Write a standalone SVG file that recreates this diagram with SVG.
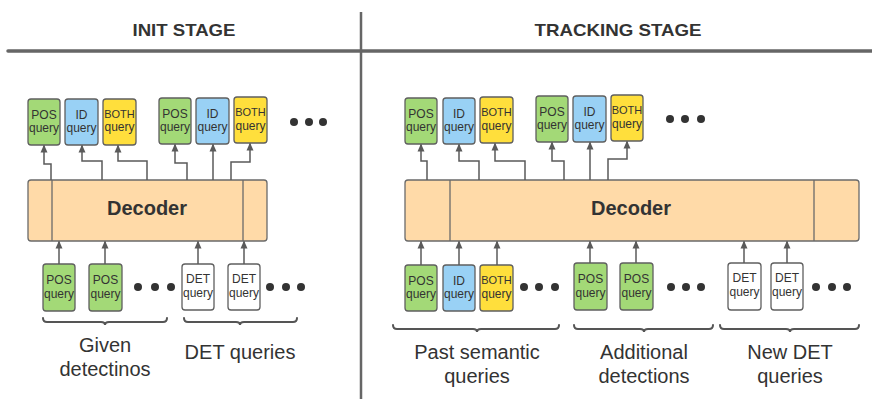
<svg xmlns="http://www.w3.org/2000/svg" width="872" height="399" viewBox="0 0 872 399">
  <style>
    .q { stroke: #5f5f5f; stroke-width: 1.3; }
    .pos { fill: #a3d977; }
    .id { fill: #99d1f5; }
    .both { fill: #ffdf3c; }
    .det { fill: #ffffff; }
    .dec { fill: #ffdaa8; stroke: #6a6a6a; stroke-width: 1.3; }
    .qt { font-family: "Liberation Sans", Arial, sans-serif; font-size: 12px; fill: #333; text-anchor: middle; }
    .bt { font-family: "Liberation Sans", Arial, sans-serif; font-size: 11px; fill: #333; text-anchor: middle; }
    .dt { font-family: "Liberation Sans", Arial, sans-serif; font-size: 20px; font-weight: bold; fill: #333; text-anchor: middle; }
    .hd { font-family: "Liberation Sans", Arial, sans-serif; font-size: 17px; font-weight: bold; fill: #333; text-anchor: middle; }
    .lb { font-family: "Liberation Sans", Arial, sans-serif; font-size: 20px; fill: #333; text-anchor: middle; }
    .ar { fill: none; stroke: #5a5a5a; stroke-width: 1.5; marker-end: url(#tip); }
    .br { fill: none; stroke: #555; stroke-width: 2; stroke-linecap: round; }
    .dot { fill: #333; }
  </style>
  <defs>
    <marker id="tip" markerUnits="userSpaceOnUse" markerWidth="8" markerHeight="8" viewBox="0 0 8 8" refX="7" refY="4" orient="auto">
      <path d="M0,0.5 L8,4 L0,7.5 Z" fill="#5a5a5a"/>
    </marker>
  </defs>

  <!-- stage headers and separators -->
  <g id="header">
    <line x1="8" y1="51" x2="872" y2="51" stroke="#666" stroke-width="3.5" stroke-linecap="round"/>
    <line x1="361" y1="12" x2="361" y2="399" stroke="#666" stroke-width="2.5"/>
    <text class="hd" x="184" y="36" textLength="103" lengthAdjust="spacingAndGlyphs">INIT STAGE</text>
    <text class="hd" x="618" y="36" textLength="167" lengthAdjust="spacingAndGlyphs">TRACKING STAGE</text>
  </g>

  <!-- init stage decoder -->
  <g id="decoder-init">
    <rect class="dec" x="28" y="180" width="239" height="61" rx="3"/>
    <line x1="52" y1="180" x2="52" y2="241" stroke="#6a6a6a" stroke-width="1.3"/>
    <line x1="243" y1="180" x2="243" y2="241" stroke="#6a6a6a" stroke-width="1.3"/>
    <text class="dt" x="147" y="215">Decoder</text>
  </g>

  <!-- tracking stage decoder -->
  <g id="decoder-track">
    <rect class="dec" x="405" y="180" width="454" height="61" rx="3"/>
    <line x1="450" y1="180" x2="450" y2="241" stroke="#6a6a6a" stroke-width="1.3"/>
    <line x1="814" y1="180" x2="814" y2="241" stroke="#6a6a6a" stroke-width="1.3"/>
    <text class="dt" x="631" y="215">Decoder</text>
  </g>

  <!-- init stage output queries -->
  <g id="init-out-pos1"><rect class="q pos" x="28" y="99" width="32" height="46" rx="3"/><text class="qt" x="44" y="119">POS</text><text class="qt" x="44" y="132">query</text></g>
  <g id="init-out-id1"><rect class="q id" x="65" y="99" width="33" height="46" rx="3"/><text class="qt" x="81.5" y="119">ID</text><text class="qt" x="81.5" y="132">query</text></g>
  <g id="init-out-both1"><rect class="q both" x="103" y="99" width="33" height="46" rx="3"/><text class="bt" x="119.5" y="118">BOTH</text><text class="qt" x="119.5" y="131">query</text></g>
  <g id="init-out-pos2"><rect class="q pos" x="159" y="98" width="32" height="46" rx="3"/><text class="qt" x="175" y="118">POS</text><text class="qt" x="175" y="131">query</text></g>
  <g id="init-out-id2"><rect class="q id" x="196" y="98" width="33" height="46" rx="3"/><text class="qt" x="212.5" y="118">ID</text><text class="qt" x="212.5" y="131">query</text></g>
  <g id="init-out-both2"><rect class="q both" x="234" y="97" width="33" height="46" rx="3"/><text class="bt" x="250.5" y="116">BOTH</text><text class="qt" x="250.5" y="130">query</text></g>
  <g id="init-out-more"><circle class="dot" cx="294" cy="122" r="4"/><circle class="dot" cx="309" cy="122" r="4"/><circle class="dot" cx="323" cy="122" r="4"/></g>

  <!-- init stage input queries -->
  <g id="init-in-pos1"><rect class="q pos" x="43" y="264" width="32" height="47" rx="3"/><text class="qt" x="59" y="284">POS</text><text class="qt" x="59" y="298">query</text></g>
  <g id="init-in-pos2"><rect class="q pos" x="89" y="264" width="33" height="47" rx="3"/><text class="qt" x="105.5" y="284">POS</text><text class="qt" x="105.5" y="298">query</text></g>
  <g id="init-in-more1"><circle class="dot" cx="138" cy="287" r="4"/><circle class="dot" cx="155" cy="287" r="4"/><circle class="dot" cx="171" cy="287" r="4"/></g>
  <g id="init-in-det1"><rect class="q det" x="182" y="264" width="32" height="46" rx="3"/><text class="qt" x="198" y="283">DET</text><text class="qt" x="198" y="297">query</text></g>
  <g id="init-in-det2"><rect class="q det" x="228" y="264" width="32" height="46" rx="3"/><text class="qt" x="244" y="283">DET</text><text class="qt" x="244" y="297">query</text></g>
  <g id="init-in-more2"><circle class="dot" cx="270" cy="287" r="4"/><circle class="dot" cx="286" cy="287" r="4"/><circle class="dot" cx="301" cy="287" r="4"/></g>

  <!-- tracking stage output queries -->
  <g id="track-out-pos1"><rect class="q pos" x="405" y="98" width="32" height="46" rx="3"/><text class="qt" x="421" y="118">POS</text><text class="qt" x="421" y="131">query</text></g>
  <g id="track-out-id1"><rect class="q id" x="443" y="98" width="32" height="46" rx="3"/><text class="qt" x="459" y="118">ID</text><text class="qt" x="459" y="131">query</text></g>
  <g id="track-out-both1"><rect class="q both" x="480" y="97" width="33" height="46" rx="3"/><text class="bt" x="496.5" y="116">BOTH</text><text class="qt" x="496.5" y="130">query</text></g>
  <g id="track-out-pos2"><rect class="q pos" x="536" y="96" width="32" height="46" rx="3"/><text class="qt" x="552" y="116">POS</text><text class="qt" x="552" y="129">query</text></g>
  <g id="track-out-id2"><rect class="q id" x="573" y="96" width="33" height="46" rx="3"/><text class="qt" x="589.5" y="116">ID</text><text class="qt" x="589.5" y="129">query</text></g>
  <g id="track-out-both2"><rect class="q both" x="611" y="95" width="32" height="46" rx="3"/><text class="bt" x="627" y="114">BOTH</text><text class="qt" x="627" y="128">query</text></g>
  <g id="track-out-more"><circle class="dot" cx="670" cy="119" r="4"/><circle class="dot" cx="685" cy="119" r="4"/><circle class="dot" cx="701" cy="119" r="4"/></g>

  <!-- tracking stage input queries -->
  <g id="track-in-pos1"><rect class="q pos" x="405" y="265" width="32" height="46" rx="3"/><text class="qt" x="421" y="285">POS</text><text class="qt" x="421" y="298">query</text></g>
  <g id="track-in-id1"><rect class="q id" x="443" y="265" width="32" height="46" rx="3"/><text class="qt" x="459" y="285">ID</text><text class="qt" x="459" y="298">query</text></g>
  <g id="track-in-both1"><rect class="q both" x="480" y="265" width="33" height="46" rx="3"/><text class="bt" x="496.5" y="284">BOTH</text><text class="qt" x="496.5" y="298">query</text></g>
  <g id="track-in-more1"><circle class="dot" cx="524" cy="287" r="4"/><circle class="dot" cx="539" cy="287" r="4"/><circle class="dot" cx="555" cy="287" r="4"/></g>
  <g id="track-in-pos2"><rect class="q pos" x="574" y="263" width="33" height="47" rx="3"/><text class="qt" x="590.5" y="283">POS</text><text class="qt" x="590.5" y="297">query</text></g>
  <g id="track-in-pos3"><rect class="q pos" x="620" y="263" width="33" height="47" rx="3"/><text class="qt" x="636.5" y="283">POS</text><text class="qt" x="636.5" y="297">query</text></g>
  <g id="track-in-more2"><circle class="dot" cx="671" cy="287" r="4"/><circle class="dot" cx="686" cy="287" r="4"/><circle class="dot" cx="701" cy="287" r="4"/></g>
  <g id="track-in-det1"><rect class="q det" x="728" y="263" width="33" height="47" rx="3"/><text class="qt" x="744.5" y="282">DET</text><text class="qt" x="744.5" y="296">query</text></g>
  <g id="track-in-det2"><rect class="q det" x="771" y="263" width="32" height="47" rx="3"/><text class="qt" x="787" y="282">DET</text><text class="qt" x="787" y="296">query</text></g>
  <g id="track-in-more3"><circle class="dot" cx="816" cy="287" r="4"/><circle class="dot" cx="832" cy="287" r="4"/><circle class="dot" cx="847" cy="287" r="4"/></g>

  <!-- group braces and labels -->
  <g id="init-given">
    <path class="br" d="M43,318 q0,4 4,4 H101 q4,0 4,3 q0,-3 4,-3 H163 q4,0 4,-4"/>
    <text class="lb" x="105" y="352">Given</text>
    <text class="lb" x="105" y="376">detectinos</text>
  </g>
  <g id="init-det">
    <path class="br" d="M184,318 q0,4 4,4 H236 q4,0 4,3 q0,-3 4,-3 H293 q4,0 4,-4"/>
    <text class="lb" x="240" y="359">DET queries</text>
  </g>
  <g id="track-past">
    <path class="br" d="M393,325 q0,4 4,4 H473 q4,0 4,3 q0,-3 4,-3 H555 q4,0 4,-4"/>
    <text class="lb" x="477" y="359">Past semantic</text>
    <text class="lb" x="477" y="383">queries</text>
  </g>
  <g id="track-additional">
    <path class="br" d="M574,325 q0,4 4,4 H640 q4,0 4,3 q0,-3 4,-3 H709 q4,0 4,-4"/>
    <text class="lb" x="644" y="359">Additional</text>
    <text class="lb" x="644" y="383">detections</text>
  </g>
  <g id="track-new">
    <path class="br" d="M720,325 q0,4 4,4 H786 q4,0 4,3 q0,-3 4,-3 H855 q4,0 4,-4"/>
    <text class="lb" x="790" y="359">New DET</text>
    <text class="lb" x="790" y="383">queries</text>
  </g>

  <!-- connectors -->
  <g id="connectors">
    <path class="ar" d="M51,180 V164 H44 V145.5"/>
    <path class="ar" d="M102,180 V161 H82 V145.5"/>
    <path class="ar" d="M147,180 V161 H118 V145.5"/>
    <path class="ar" d="M187,180 V163 H175 V144.5"/>
    <path class="ar" d="M213,180 V144.5"/>
    <path class="ar" d="M231,180 V162 H250 V143.5"/>

    <path class="ar" d="M427,180 V161 H421 V144.5"/>
    <path class="ar" d="M479,180 V161 H459 V144.5"/>
    <path class="ar" d="M525,180 V161 H495 V143.5"/>
    <path class="ar" d="M564,180 V161 H552 V142.5"/>
    <path class="ar" d="M590,180 V142.5"/>
    <path class="ar" d="M608,180 V159 H627 V141.5"/>

    <path class="ar" d="M59,264 V241.5"/>
    <path class="ar" d="M105,264 V241.5"/>
    <path class="ar" d="M198,264 V241.5"/>
    <path class="ar" d="M244,264 V241.5"/>

    <path class="ar" d="M421,265 V241.5"/>
    <path class="ar" d="M459,265 V241.5"/>
    <path class="ar" d="M497,265 V241.5"/>
    <path class="ar" d="M590,263 V241.5"/>
    <path class="ar" d="M636,263 V241.5"/>
    <path class="ar" d="M744,263 V241.5"/>
    <path class="ar" d="M787,263 V241.5"/>
  </g>
</svg>
